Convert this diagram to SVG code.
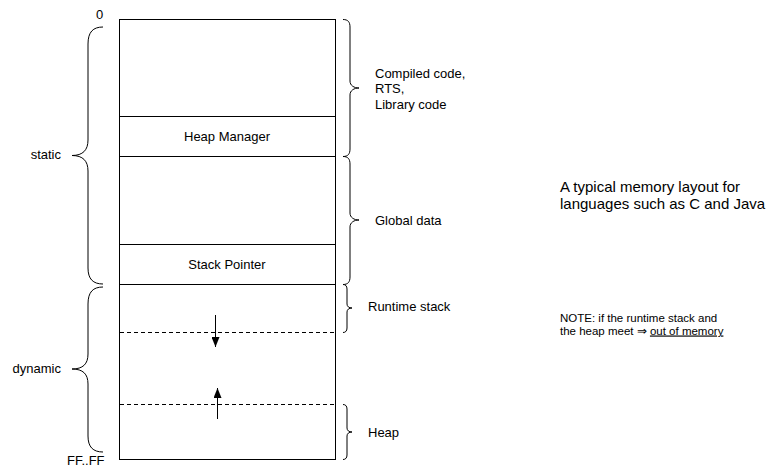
<svg xmlns="http://www.w3.org/2000/svg" width="772" height="467" viewBox="0 0 772 467">
<defs>
<style>
text{font-family:"Liberation Sans",Arial,sans-serif;fill:#000}
.box{fill:#fff;stroke:#000;stroke-width:1}
.dash{stroke:#000;stroke-width:1;stroke-dasharray:4,3;fill:none}
.brace{fill:none;stroke:#000;stroke-width:1}
.arr{stroke:#000;stroke-width:1;fill:none}
.lbl{font-size:13px}
</style>
<marker id="ah" markerWidth="10" markerHeight="8" refX="10" refY="4" orient="auto" markerUnits="userSpaceOnUse" viewBox="0 0 10 8">
<path d="M0,0 L10,4 L0,8 Z" fill="#000"/>
</marker>
</defs>
<rect width="772" height="467" fill="#fff"/>
<g id="memory">
<rect class="box" x="119.5" y="19.5" width="216" height="440"/>
</g>
<g id="heap-manager">
<rect class="box" x="119.5" y="116.5" width="216" height="40"/>
<text class="lbl" x="227" y="141" text-anchor="middle">Heap Manager</text>
</g>
<g id="stack-pointer">
<rect class="box" x="119.5" y="244.5" width="216" height="40"/>
<text class="lbl" x="227" y="269" text-anchor="middle">Stack Pointer</text>
</g>
<g id="boundaries">
<line class="dash" x1="120" y1="332.5" x2="335" y2="332.5"/>
<line class="dash" x1="120" y1="404.5" x2="335" y2="404.5"/>
</g>
<g id="connectors">
<line class="arr" x1="215.5" y1="315" x2="215.5" y2="347" marker-end="url(#ah)"/>
<line class="arr" x1="217.5" y1="419" x2="217.5" y2="388" marker-end="url(#ah)"/>
<path class="brace" d="M103,27 C93,27 88,32 88,44 L88,140 C88,150 83,155.5 72,155.5 C83,155.5 88,161 88,171 L88,268 C88,279 93,284 103,284"/>
<path class="brace" d="M103,287 C93,287 88,292 88,304 L88,354 C88,364 83,369 72,369 C83,369 88,374 88,384 L88,436 C88,447 93,452 103,452"/>
<path class="brace" d="M343,19.5 C348,19.5 350,22 350,27 L350,81 C350,85.5 354,88 359,88 C354,88 350,90.5 350,95 L350,149 C350,154 348,156.5 343,156.5"/>
<path class="brace" d="M343,156.5 C348,156.5 350,159 350,164 L350,213 C350,217.5 354,220 359,220 C354,220 350,222.5 350,227 L350,277 C350,282 348,284.5 343,284.5"/>
<path class="brace" d="M343,284.5 C345.5,284.5 347,286 347,289 L347,304 C347,306.5 349,308 352,308 C349,308 347,309.5 347,312 L347,328 C347,331 345.5,332.5 343,332.5"/>
<path class="brace" d="M343,404.5 C345.5,404.5 347,406 347,409 L347,428 C347,430.5 349,432 352,432 C349,432 347,433.5 347,436 L347,455 C347,458 345.5,459.5 343,459.5"/>
</g>
<g id="labels">
<text class="lbl" x="96" y="19">0</text>
<text class="lbl" x="67" y="465">FF..FF</text>
<text class="lbl" x="61" y="159" text-anchor="end">static</text>
<text class="lbl" x="61" y="373" text-anchor="end">dynamic</text>
<text class="lbl" x="375" y="77.5">Compiled code,</text>
<text class="lbl" x="375" y="93">RTS,</text>
<text class="lbl" x="375" y="108.5">Library code</text>
<text class="lbl" x="375" y="225">Global data</text>
<text class="lbl" x="368" y="311">Runtime stack</text>
<text class="lbl" x="368" y="437">Heap</text>
<text style="font-size:15px" x="560" y="192">A typical memory layout for</text>
<text style="font-size:15px" x="560" y="209">languages such as C and Java</text>
<text style="font-size:11.5px" x="560" y="322">NOTE: if the runtime stack and</text>
<text style="font-size:11.5px" x="560" y="334.5">the heap meet ⇒ <tspan text-decoration="underline">out of memory</tspan></text>
</g>
</svg>
